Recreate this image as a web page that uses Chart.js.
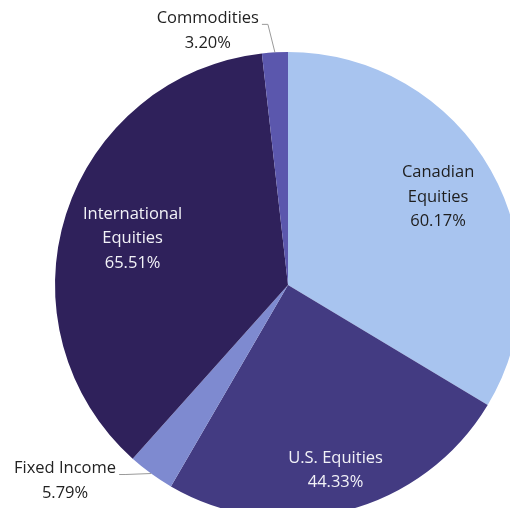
<!DOCTYPE html>
<html lang="en">
<head>
    <meta charset="UTF-8">
    <style>
        html, body { margin: 0; padding: 0; width: 510px; height: 508px; overflow: hidden; background: #fff; }
        #wrap { position: absolute; left: -12px; top: -15px; width: 600px; height: 600px; }
    </style>
</head>

<body>
<script src="https://cdn.jsdelivr.net/npm/chart.js@4/dist/chart.umd.min.js"></script>
<div id="wrap"><canvas id="pie-chart" width="600" height="600"></canvas></div>
<script>

    // allocation data
    var labels = [["Canadian", "Equities"], ["U.S. Equities"], ["Fixed Income"], ["International", "Equities"], ["Commodities"]]
    var values = [60.17, 44.33, 5.79, 65.51, 3.20]
    var colors = ["#a8c4ef", "#433b82", "#7e8ad0", "#2f215b", "#5b57ad"]

    // how each label sits: inside at a fraction of the radius, or outside with a leader line
    var labelStyle = [
        { inside: true, r: 0.74, dy: -3, color: "#1e1e1e" },
        { inside: true, r: 0.82, dy: 0, color: "#f2f2f7" },
        { inside: false, ex: -26, ey: 1, color: "#222" },
        { inside: true, r: 0.70, dy: 3, color: "#f2f2f7" },
        { inside: false, ex: -7, ey: -28, color: "#222" }
    ]

    var font = "16.5px 'Open Sans', sans-serif"
    var lineH = 24.5

    var sliceLabels = {
        id: 'sliceLabels',
        afterDatasetsDraw(chart) {
            var ctx = chart.ctx
            var meta = chart.getDatasetMeta(0)
            ctx.save()
            ctx.font = font
            ctx.textBaseline = 'middle'
            ctx.textAlign = 'center'
            meta.data.forEach(function (arc, i) {
                var st = labelStyle[i]
                var mid = (arc.startAngle + arc.endAngle) / 2
                var lines = labels[i].concat([values[i].toFixed(2) + "%"])
                ctx.fillStyle = st.color
                if (st.inside) {
                    var rr = arc.outerRadius * st.r
                    var cx = arc.x + Math.cos(mid) * rr
                    var cy = arc.y + Math.sin(mid) * rr + st.dy
                    var y0 = cy - (lines.length - 1) * lineH / 2
                    lines.forEach(function (t, k) { ctx.fillText(t, cx, y0 + k * lineH) })
                } else {
                    var px = arc.x + Math.cos(mid) * arc.outerRadius
                    var py = arc.y + Math.sin(mid) * arc.outerRadius
                    var ex = px + st.ex
                    var ey = py + st.ey
                    var hx = ex - 6
                    ctx.strokeStyle = "#9a9a9a"
                    ctx.lineWidth = 1
                    ctx.beginPath()
                    ctx.moveTo(px, py)
                    ctx.lineTo(ex, ey)
                    ctx.lineTo(hx, ey)
                    ctx.stroke()
                    var w = ctx.measureText(lines[0]).width
                    var tx = hx - 3 - w / 2
                    ctx.fillText(lines[0], tx, ey - 6)
                    ctx.fillText(lines[1], tx, ey - 6 + lineH)
                }
            })
            ctx.restore()
        }
    }

    new Chart(document.getElementById("pie-chart"), {
        type: 'pie',
        data: {
            labels: labels,
            datasets: [{
                data: values,
                backgroundColor: colors,
                borderWidth: 0
            }]
        },
        options: {
            responsive: false,
            animation: false,
            layout: { padding: 67 },
            plugins: {
                legend: { display: false },
                tooltip: { enabled: false }
            }
        },
        plugins: [sliceLabels]
    });
</script>

</body>

</html>
